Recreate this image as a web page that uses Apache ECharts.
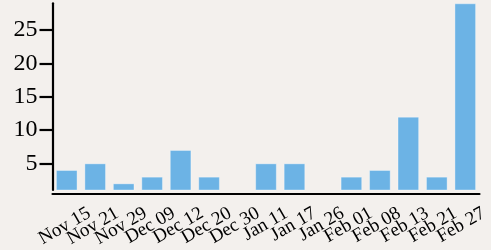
<!DOCTYPE html>
<html>
<head>
<meta charset="utf-8">
<script src="https://cdn.jsdelivr.net/npm/echarts@6/dist/echarts.min.js"></script>
<style>
  body { margin: 0; background: #f3f0ed; }
  #grafico { width: 491px; height: 250px; }
</style>
</head>
<body>
<div id="grafico"></div>
<script>
const fechas = ["Nov 15", "Nov 21", "Nov 29", "Dec 09", "Dec 12", "Dec 20", "Dec 30",
  "Jan 11", "Jan 17", "Jan 26", "Feb 01", "Feb 08", "Feb 13", "Feb 21", "Feb 27"];
const cantidades = [4, 5, 2, 3, 7, 3, 1, 5, 5, 1, 3, 4, 12, 3, 29];
const ticksY = [5, 10, 15, 20, 25];

const grafico = echarts.init(document.getElementById("grafico"));

const negro = "#000";
const fuente = "'Liberation Serif', 'DejaVu Serif', serif";

const opciones = {
  backgroundColor: "#f3f0ed",
  animation: false,
  grid: [
    { left: 52.5, right: 11.5, top: 3.3, bottom: 60 },
    // second grid only carries the rotated date labels, shifted right
    { left: 61, right: 3, top: 3.3, bottom: 60 }
  ],
  xAxis: [
    {
      type: "category",
      gridIndex: 0,
      data: fechas,
      offset: 3.3,
      axisLine: { lineStyle: { color: negro, width: 2.2 } },
      axisTick: { length: 12, lineStyle: { color: negro, width: 2.2 } },
      axisLabel: { show: false }
    },
    {
      type: "category",
      gridIndex: 1,
      data: [""].concat(fechas),
      boundaryGap: false,
      offset: 3.3,
      axisLine: { show: false },
      axisTick: { show: false },
      axisLabel: {
        interval: 0,
        rotate: 30,
        margin: 21,
        color: negro,
        fontFamily: fuente,
        fontSize: 19
      }
    }
  ],
  yAxis: [
    {
      type: "value",
      gridIndex: 0,
      min: Math.min(...cantidades),
      max: Math.max(...cantidades),
      splitLine: { show: false },
      axisLine: { show: true, lineStyle: { color: negro, width: 2.2 } },
      axisTick: { show: true, length: 13, customValues: ticksY, lineStyle: { color: negro, width: 2.2 } },
      axisLabel: {
        customValues: ticksY,
        margin: 15,
        color: negro,
        fontFamily: fuente,
        fontSize: 24
      }
    },
    { type: "value", gridIndex: 1, show: false }
  ],
  series: [
    {
      type: "bar",
      xAxisIndex: 0,
      yAxisIndex: 0,
      data: cantidades,
      barCategoryGap: "24%",
      itemStyle: {
        color: "#6cb3e5",
        borderColor: "rgba(255,255,255,0.35)",
        borderWidth: 1
      }
    }
  ]
};

grafico.setOption(opciones);
</script>
</body>
</html>
